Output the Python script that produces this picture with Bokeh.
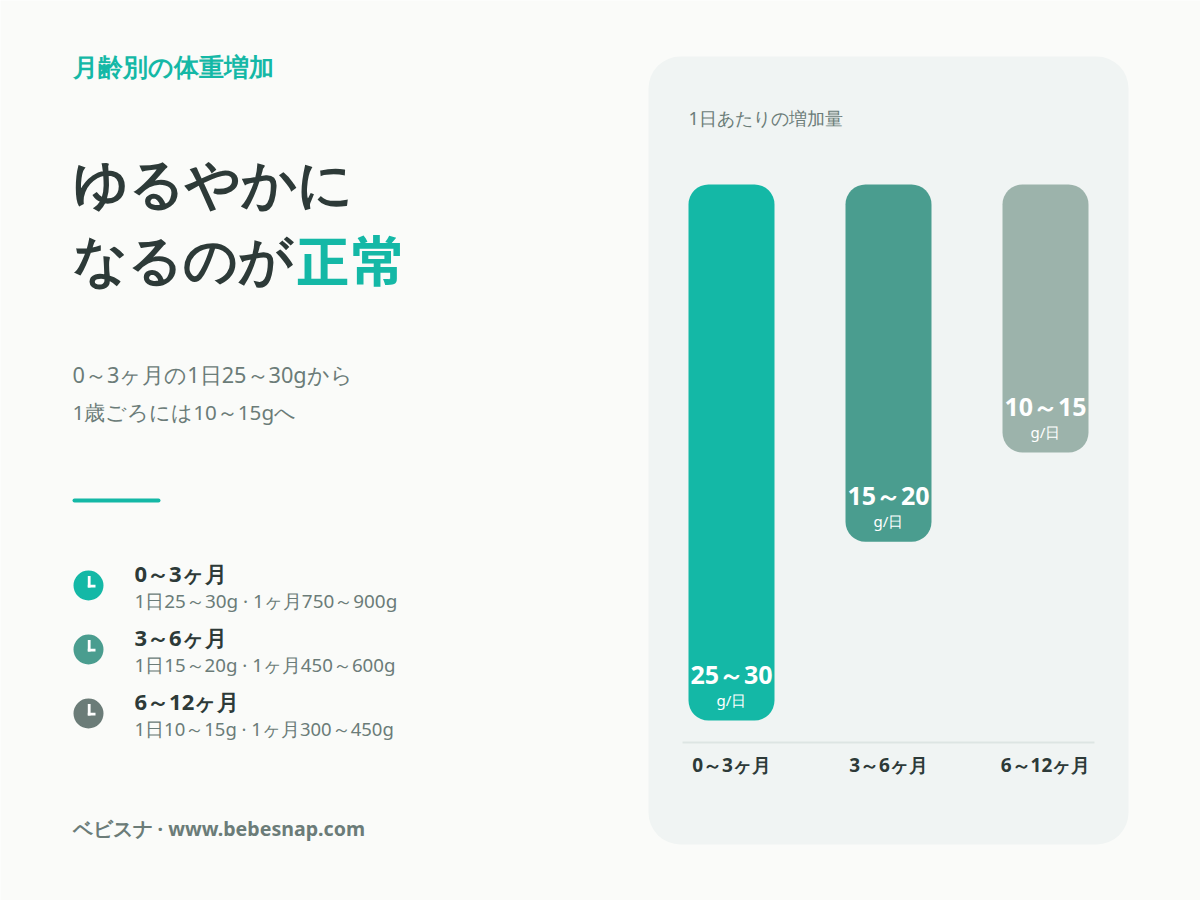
from bokeh.plotting import figure
from bokeh.models import Range1d
from bokeh.core.properties import value
from bokeh.embed import file_html
from bokeh.resources import INLINE

months = ["0～3ヶ月", "3～6ヶ月", "6～12ヶ月"]
ranges = ["25～30", "15～20", "10～15"]
upper = [30, 20, 15]
details = ["1日25～30g · 1ヶ月750～900g", "1日15～20g · 1ヶ月450～600g", "1日10～15g · 1ヶ月300～450g"]
bar_colors = ["#14b8a6", "#4a9d8f", "#9cb3ab"]
icon_colors = ["#14b8a6", "#4a9d8f", "#6b7c78"]

INK = "#2d3a38"
GREY = "#6b7c78"
TEAL = "#14b8a6"
BG = "#fafbf9"
CARD = "#f0f4f3"
FONT = "Noto Sans"
KANJI = "Noto Sans CJK JP"
detail_sizes = [18.9, 18.7, 18.5]

p = figure(width=1200, height=900, x_range=Range1d(0, 1200), y_range=Range1d(900, 0),
           output_backend="svg", toolbar_location=None, min_border=0,
           background_fill_color=BG, border_fill_color=BG, outline_line_color=None)
p.axis.visible = False
p.grid.visible = False

PX_PER_UNIT = 536 / 30
p.extra_y_ranges["val"] = Range1d((900 - 184) / PX_PER_UNIT, (0 - 184) / PX_PER_UNIT)


def txt(x, y, s, size, color, bold=False, align="left", font=FONT):
    p.text([x], [y], text=[s], text_font=value(font), text_font_size=f"{size}px",
           text_color=color, text_align=align, text_baseline="alphabetic",
           text_font_style="bold" if bold else "normal")


# card
p.quad(left=[648], right=[1128], top=[56], bottom=[844], fill_color=CARD, line_color=None, border_radius=32)

# left column
txt(72, 65, "月齢別の体重増加", 25, TEAL, bold=True)
txt(72, 181, "ゆるやかに", 54.6, INK, bold=True)
txt(72, 257, "なるのが", 54, INK, bold=True)
txt(295, 258, "正常", 54, TEAL, bold=True, font=KANJI)
txt(72, 374, "0～3ヶ月の1日25～30gから", 21.7, GREY)
txt(72, 411, "1歳ごろには10～15gへ", 20.6, GREY)
p.quad(left=[72], right=[160], top=[498], bottom=[502], fill_color=TEAL, line_color=None, border_radius=2)

for i, (m, d, c, ds) in enumerate(zip(months, details, icon_colors, detail_sizes)):
    y = 585 + i * 64
    p.scatter([88], [y], size=30, marker="circle", fill_color=c, line_color=None)
    p.segment([88.7], [y - 9.5], [88.7], [y + 2], line_color="white", line_width=2.8)
    p.segment([87.3], [y + 0.7], [95], [y + 0.7], line_color="white", line_width=2.8)
    txt(134, y - 13, m, 22, INK, bold=True)
    txt(134, y + 15, d, ds, GREY)

txt(72, 828, "ベビスナ · www.bebesnap.com", 19.6, GREY, bold=True)

# chart card
txt(688, 117, "1日あたりの増加量", 18, GREY)
xs = [731, 888, 1045]
p.vbar(x=xs, width=86, bottom=[0, 0, 0], top=upper, fill_color=bar_colors, line_color=None,
       border_radius=20, y_range_name="val")
p.segment([682], [742], [1094], [742], line_color="#dde5e3", line_width=2)
for x, u, r, m in zip(xs, upper, ranges, months):
    y = 184 + u * PX_PER_UNIT
    txt(x, y - 47, r, 25, "#ffffff", bold=True, align="center")
    txt(x, y - 21, "g/日", 15, "#ffffff", align="center")
    txt(x, 764, m, 19, INK, bold=True, align="center")

open("out.html", "w").write(file_html(p, INLINE))
